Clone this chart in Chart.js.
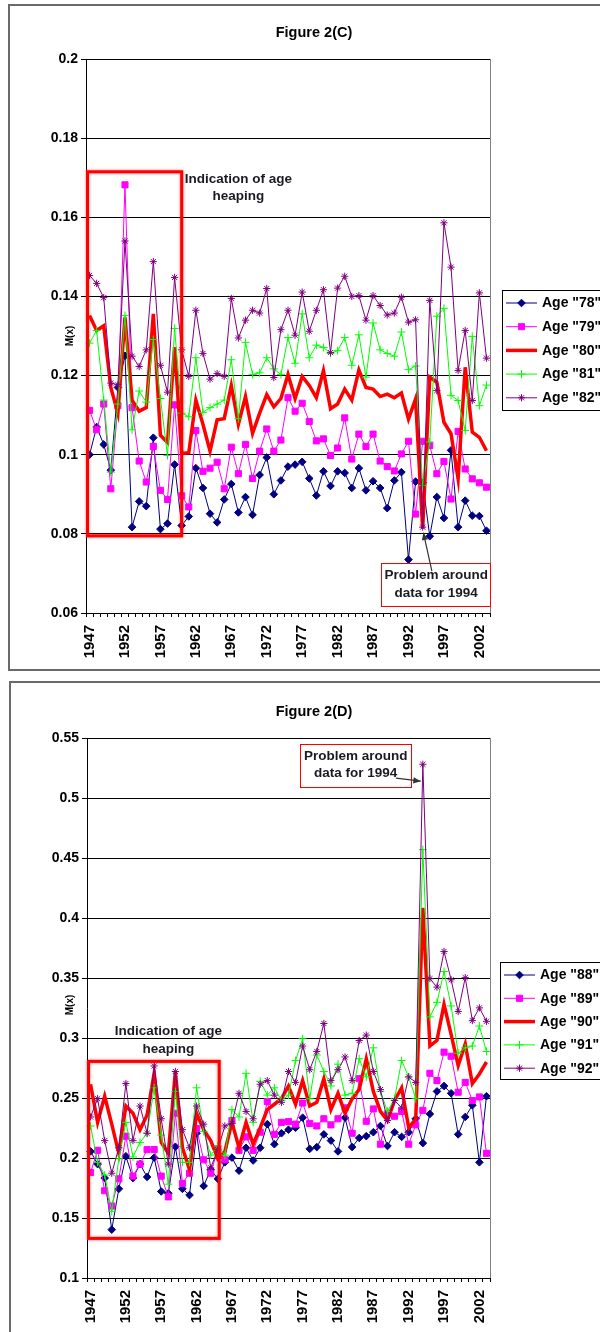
<!DOCTYPE html>
<html>
<head>
<meta charset="utf-8">
<title>Figure 2(C) / 2(D)</title>
<script src="https://cdn.jsdelivr.net/npm/chart.js@4.4.0/dist/chart.umd.min.js"></script>
<style>
  html, body { margin: 0; padding: 0; background: #fff; overflow: hidden; }
  .wrap { position: absolute; left: 0; width: 600px; }
  #wrapC { top: 0; height: 676px; }
  #wrapD { top: 676px; height: 656px; }
  canvas { display: block; }
</style>
</head>
<body>
<div class="wrap" id="wrapC"><canvas id="chartC" width="600" height="676"></canvas></div>
<div class="wrap" id="wrapD"><canvas id="chartD" width="600" height="656"></canvas></div>
<script>
// ---- data ----
const years = ['1947','1948','1949','1950','1951','1952','1953','1954','1955','1956',
  '1957','1958','1959','1960','1961','1962','1963','1964','1965','1966',
  '1967','1968','1969','1970','1971','1972','1973','1974','1975','1976',
  '1977','1978','1979','1980','1981','1982','1983','1984','1985','1986',
  '1987','1988','1989','1990','1991','1992','1993','1994','1995','1996',
  '1997','1998','1999','2000','2001','2002','2003'];
const yearTicks = ['1947','1952','1957','1962','1967','1972','1977','1982','1987','1992','1997','2002'];

// Figure 2(C)
const namesC = ['Age "78"', 'Age "79"', 'Age "80"', 'Age "81"', 'Age "82"'];
const age78 = [0.100,0.107,0.1026,0.0961,0.117,0.125,0.0817,0.0882,0.087,0.1043,
  0.0812,0.0826,0.0975,0.0821,0.0844,0.0966,0.0916,0.0851,0.0829,0.0887,
  0.0926,0.0854,0.0893,0.0848,0.0949,0.0993,0.090,0.0935,0.097,0.0975,
  0.0982,0.094,0.0897,0.0958,0.0921,0.0958,0.0954,0.0916,0.0966,0.091,
  0.0933,0.0916,0.0865,0.0935,0.0956,0.0735,0.0932,0.0929,0.0794,0.0893,
  0.084,0.1011,0.0817,0.0884,0.0846,0.0845,0.0808];
const age79 = [0.1112,0.1063,0.1128,0.0914,0.1124,0.1682,0.1119,0.0984,0.0931,0.1021,
  0.091,0.0887,0.1126,0.0896,0.0868,0.1061,0.0958,0.0966,0.0981,0.0914,
  0.1019,0.0952,0.1026,0.094,0.1009,0.1065,0.1009,0.1037,0.1144,0.111,
  0.113,0.1084,0.1035,0.104,0.0998,0.1017,0.1093,0.0989,0.1052,0.1021,
  0.1052,0.0984,0.097,0.0959,0.1002,0.1034,0.085,0.1034,0.1023,0.0952,
  0.0983,0.0888,0.1059,0.0964,0.0939,0.0929,0.0918];
const age80 = [0.1352,0.1314,0.1326,0.117,0.1105,0.1347,0.1138,0.111,0.1119,0.1356,
  0.1049,0.1031,0.1272,0.1003,0.1005,0.1138,0.1077,0.1009,0.1088,0.1091,
  0.1175,0.1077,0.1147,0.1054,0.1105,0.1152,0.1121,0.1142,0.1203,0.1142,
  0.1198,0.1175,0.1144,0.1212,0.1116,0.1128,0.1166,0.1138,0.1214,0.117,
  0.1166,0.1147,0.1153,0.1144,0.1156,0.109,0.1141,0.0813,0.1196,0.1183,
  0.1082,0.1053,0.0939,0.1221,0.1057,0.1044,0.101];
const age81 = [0.1282,0.1314,0.1138,0.0956,0.1128,0.1352,0.1063,0.1161,0.1133,0.1291,
  0.1142,0.0998,0.1319,0.1105,0.1096,0.1245,0.1107,0.1119,0.1128,0.1138,
  0.124,0.1091,0.1284,0.1203,0.1207,0.1245,0.1217,0.1203,0.1296,0.1231,
  0.1356,0.1245,0.1277,0.1271,0.1256,0.1263,0.1296,0.1226,0.1303,0.1196,
  0.1333,0.1265,0.1256,0.1249,0.131,0.1215,0.1224,0.0922,0.1032,0.135,
  0.137,0.115,0.1137,0.1061,0.1299,0.1124,0.1176];
const age82 = [0.1453,0.1433,0.1397,0.1181,0.1177,0.154,0.1249,0.1223,0.1265,0.1488,
  0.1226,0.1158,0.1448,0.1265,0.1198,0.1365,0.1256,0.1191,0.1205,0.1198,
  0.1395,0.1295,0.134,0.1365,0.1358,0.142,0.1195,0.1316,0.1365,0.1302,
  0.1411,0.1312,0.1365,0.1417,0.1258,0.1421,0.1451,0.14,0.1402,0.134,
  0.1402,0.1377,0.1353,0.1358,0.1398,0.1335,0.1341,0.0817,0.139,0.1162,
  0.1586,0.1474,0.1213,0.1314,0.1137,0.1409,0.1244];
const yTicksC = [0.06, 0.08, 0.1, 0.12, 0.14, 0.16, 0.18, 0.2];

// Figure 2(D)
const namesD = ['Age "88"', 'Age "89"', 'Age "90"', 'Age "91"', 'Age "92"'];
const age88 = [0.2055,0.1949,0.1833,0.1403,0.1743,0.2015,0.1833,0.1949,0.1842,0.2003,
  0.1721,0.1706,0.2094,0.1743,0.1691,0.2206,0.1767,0.1903,0.1827,0.1964,
  0.2003,0.1894,0.2085,0.1979,0.2085,0.2282,0.2115,0.2206,0.2236,0.2252,
  0.2336,0.2076,0.2091,0.2197,0.2145,0.2055,0.2336,0.2091,0.2167,0.2182,
  0.2215,0.2267,0.21,0.2215,0.2176,0.2215,0.2327,0.2124,0.2367,0.2555,
  0.26,0.2539,0.2197,0.2342,0.2439,0.1964,0.2515];
const age89 = [0.1879,0.2064,0.1727,0.16,0.1827,0.2182,0.1849,0.1949,0.207,0.207,
  0.1849,0.1676,0.2373,0.1788,0.1873,0.2245,0.1985,0.1873,0.2076,0.1985,
  0.2312,0.2064,0.2176,0.2064,0.2215,0.247,0.2197,0.2297,0.2303,0.2282,
  0.2458,0.2288,0.2267,0.2327,0.2276,0.2327,0.2418,0.2206,0.2661,0.2306,
  0.2409,0.2115,0.2367,0.2348,0.2388,0.2115,0.2276,0.2397,0.2706,0.2645,
  0.2882,0.2848,0.2548,0.263,0.2479,0.2509,0.2039];
const age90 = [0.2615,0.2297,0.2515,0.2282,0.2039,0.2433,0.2373,0.2236,0.2358,0.2706,
  0.213,0.2039,0.2721,0.2085,0.1903,0.2373,0.2236,0.2145,0.1994,0.2055,
  0.2297,0.2085,0.2297,0.2115,0.2252,0.2403,0.2448,0.2494,0.26,0.2448,
  0.2645,0.2433,0.2464,0.2661,0.2403,0.2539,0.2373,0.2494,0.257,0.2827,
  0.2555,0.2388,0.2312,0.2479,0.2585,0.2252,0.2327,0.4085,0.2933,0.298,
  0.328,0.303,0.277,0.295,0.262,0.27,0.28];
const age91 = [0.2267,0.1964,0.1858,0.1555,0.1994,0.2297,0.2009,0.213,0.2206,0.2585,
  0.2191,0.1782,0.2555,0.1964,0.1964,0.2585,0.2221,0.2024,0.21,0.2024,
  0.2403,0.2342,0.2706,0.2297,0.2639,0.2524,0.2585,0.2479,0.2524,0.2812,
  0.2994,0.2494,0.2858,0.2721,0.26,0.2782,0.2524,0.2539,0.2827,0.2676,
  0.2918,0.2555,0.2388,0.2494,0.2812,0.2676,0.2494,0.457,0.3176,0.3297,
  0.3554,0.3267,0.2873,0.2918,0.2933,0.31,0.2888];
const age92 = [0.2342,0.2494,0.2145,0.1873,0.2085,0.2621,0.2145,0.2433,0.2206,0.2767,
  0.2327,0.1949,0.2721,0.2236,0.2085,0.2433,0.2282,0.1918,0.207,0.2267,
  0.2288,0.2539,0.2388,0.2327,0.2615,0.2645,0.2524,0.2464,0.2721,0.263,
  0.2933,0.2736,0.2888,0.3121,0.2645,0.2736,0.2842,0.2645,0.2979,0.3024,
  0.2721,0.257,0.2312,0.2479,0.2418,0.2676,0.263,0.5281,0.3494,0.3424,
  0.3721,0.3485,0.3221,0.3503,0.3145,0.3251,0.3139];
const yTicksD = [0.1, 0.15, 0.2, 0.25, 0.3, 0.35, 0.4, 0.45, 0.5, 0.55];

// ---- styling (Excel 2003 look) ----
const FONT = "'Liberation Sans', Arial, sans-serif";
const seriesStyle = [
  { color: '#000080', width: 1,   point: 'rectRot', radius: 3.8 },
  { color: '#FF00FF', width: 1,   point: 'rect',    radius: 4.3 },
  { color: '#FF0000', width: 3.5, point: false,     radius: 0 },
  { color: '#00FF00', width: 1,   point: 'cross',   radius: 4 },
  { color: '#800080', width: 1,   point: 'star',    radius: 3.6 }
];

function buildDatasets(names, series) {
  return series.map((values, i) => {
    const st = seriesStyle[i];
    return {
      label: names[i],
      data: values,
      borderColor: st.color,
      backgroundColor: st.color,
      borderWidth: st.width,
      pointStyle: st.point,
      pointRadius: st.radius,
      pointBackgroundColor: st.color,
      pointBorderColor: st.color,
      pointBorderWidth: 1,
      tension: 0,
      fill: false,
      order: series.length - i   // later series on top, like Excel
    };
  });
}

// frame, title, annotations and legend drawn on the chart canvas
function decorPlugin(cfg) {
  const px = (chart, xv, yv) => [chart.scales.x.getPixelForValue(xv), chart.scales.y.getPixelForValue(yv)];
  return {
    id: 'decor',
    beforeDraw(chart) {
      const ctx = chart.ctx;
      ctx.save();
      ctx.fillStyle = '#fff';
      ctx.fillRect(0, 0, chart.width, chart.height);
      ctx.strokeStyle = '#6a6a6a';
      ctx.lineWidth = 2;
      ctx.strokeRect(cfg.frame[0], cfg.frame[1], cfg.frame[2], cfg.frame[3]);
      ctx.fillStyle = '#000';
      ctx.font = 'bold 14.5px ' + FONT;
      ctx.textAlign = 'center';
      ctx.textBaseline = 'middle';
      ctx.fillText(cfg.title, cfg.titlePos[0], cfg.titlePos[1]);
      ctx.restore();
    },
    afterDatasetsDraw(chart) {
      const ctx = chart.ctx;
      const area = chart.chartArea;
      ctx.save();
      // plot area right border
      ctx.strokeStyle = '#808080';
      ctx.lineWidth = 1;
      ctx.beginPath();
      ctx.moveTo(Math.round(area.right) + 0.5, area.top);
      ctx.lineTo(Math.round(area.right) + 0.5, area.bottom);
      ctx.stroke();

      // age heaping box
      const hb = cfg.heapBox;
      const [hx0, hy1] = px(chart, hb.x0, hb.y1);
      const [hx1, hy0] = px(chart, hb.x1, hb.y0);
      ctx.strokeStyle = '#FF0000';
      ctx.lineWidth = 3;
      ctx.shadowColor = 'rgba(255,0,0,0.55)';
      ctx.shadowBlur = 3;
      ctx.strokeRect(hx0 + 1.5, hy1, hx1 - hx0 - 1.5, hy0 - hy1);
      ctx.shadowBlur = 0;
      ctx.shadowColor = 'transparent';

      ctx.fillStyle = '#1a1a24';
      ctx.font = 'bold 13.5px ' + FONT;
      ctx.textAlign = 'center';
      ctx.textBaseline = 'middle';
      cfg.heapText.lines.forEach((t, k) => {
        const [tx, ty] = px(chart, cfg.heapText.x, cfg.heapText.y[k]);
        ctx.fillText(t, tx, ty);
      });

      // 1994 problem call-out
      const pb = cfg.probBox;
      const [px0, py1] = px(chart, pb.x0, pb.y1);
      const [px1, py0] = px(chart, pb.x1, pb.y0);
      ctx.fillStyle = '#fff';
      ctx.fillRect(px0, py1, px1 - px0, py0 - py1);
      ctx.strokeStyle = '#FF0000';
      ctx.lineWidth = 1;
      ctx.strokeRect(Math.round(px0) + 0.5, Math.round(py1) + 0.5, Math.round(px1 - px0), Math.round(py0 - py1));
      ctx.fillStyle = '#1a1a24';
      cfg.probText.lines.forEach((t, k) => {
        const [tx, ty] = px(chart, cfg.probText.x, cfg.probText.y[k]);
        ctx.fillText(t, tx, ty);
      });

      // arrow
      const [ax0, ay0] = px(chart, cfg.arrow.from[0], cfg.arrow.from[1]);
      const [ax1, ay1] = px(chart, cfg.arrow.to[0], cfg.arrow.to[1]);
      ctx.strokeStyle = '#333';
      ctx.fillStyle = '#333';
      ctx.lineWidth = 1.2;
      ctx.beginPath();
      ctx.moveTo(ax0, ay0);
      ctx.lineTo(ax1, ay1);
      ctx.stroke();
      const ang = Math.atan2(ay1 - ay0, ax1 - ax0);
      ctx.beginPath();
      ctx.moveTo(ax1, ay1);
      ctx.lineTo(ax1 - 8 * Math.cos(ang - 0.4), ay1 - 8 * Math.sin(ang - 0.4));
      ctx.lineTo(ax1 - 8 * Math.cos(ang + 0.4), ay1 - 8 * Math.sin(ang + 0.4));
      ctx.closePath();
      ctx.fill();
      ctx.restore();
    },
    afterDraw(chart) {
      const ctx = chart.ctx;
      ctx.save();
      // y axis title, sitting between the tick labels like the original
      ctx.translate(cfg.yTitlePos[0], cfg.yTitlePos[1]);
      ctx.rotate(-Math.PI / 2);
      ctx.fillStyle = '#000';
      ctx.font = 'bold 10px ' + FONT;
      ctx.textAlign = 'center';
      ctx.textBaseline = 'middle';
      ctx.fillText('M(x)', 0, 0);
      ctx.restore();

      // legend
      const lg = cfg.legend;
      ctx.save();
      ctx.fillStyle = '#fff';
      ctx.fillRect(lg.x, lg.y, lg.w, lg.h);
      ctx.strokeStyle = '#000';
      ctx.lineWidth = 1;
      ctx.strokeRect(lg.x + 0.5, lg.y + 0.5, lg.w, lg.h);
      ctx.font = 'bold 14px ' + FONT;
      ctx.textAlign = 'left';
      ctx.textBaseline = 'middle';
      chart.data.datasets.forEach((ds, k) => {
        const y = lg.y + lg.first + k * lg.step;
        const x0 = lg.x + 4, x1 = lg.x + 35;
        ctx.strokeStyle = ds.borderColor;
        ctx.lineWidth = ds.borderWidth;
        ctx.beginPath();
        ctx.moveTo(x0, y);
        ctx.lineTo(x1, y);
        ctx.stroke();
        if (ds.pointStyle && Chart.helpers && Chart.helpers.drawPoint) {
          ctx.fillStyle = ds.pointBackgroundColor;
          ctx.strokeStyle = ds.pointBorderColor;
          ctx.lineWidth = 1;
          Chart.helpers.drawPoint(ctx, { pointStyle: ds.pointStyle, radius: ds.pointRadius, borderWidth: 1, rotation: 0 }, (x0 + x1) / 2, y);
        }
        ctx.fillStyle = '#000';
        ctx.fillText(ds.label, lg.x + 40, y + 0.5);
      });
      ctx.restore();
    }
  };
}

function makeChart(id, names, series, yTicks, pad, xHeight, cfg) {
  const ctx = document.getElementById(id).getContext('2d');
  return new Chart(ctx, {
    type: 'line',
    data: { labels: years, datasets: buildDatasets(names, series) },
    plugins: [decorPlugin(cfg)],
    options: {
      responsive: false,
      animation: false,
      events: [],
      layout: { padding: pad },
      plugins: {
        legend: { display: false },
        title: { display: false },
        tooltip: { enabled: false }
      },
      scales: {
        x: {
          type: 'category',
          offset: true,
          grid: { offset: true, drawOnChartArea: false, drawTicks: true, tickLength: 4, color: '#000' },
          border: { color: '#000', width: 1 },
          ticks: {
            autoSkip: false,
            minRotation: 90,
            maxRotation: 90,
            padding: 8,
            color: '#000',
            font: { family: FONT, size: 15, weight: 'bold' },
            callback: function (value) {
              const lab = this.getLabelForValue(value);
              return yearTicks.includes(lab) ? lab : '';
            }
          },
          afterFit: (scale) => { scale.height = xHeight; }
        },
        y: {
          min: yTicks[0],
          max: yTicks[yTicks.length - 1],
          afterBuildTicks: (scale) => { scale.ticks = yTicks.map(v => ({ value: v })); },
          grid: { color: '#000', lineWidth: 1, tickLength: 5, tickColor: '#000' },
          border: { color: '#000', width: 1 },
          ticks: {
            padding: 3,
            color: '#000',
            font: { family: FONT, size: 14, weight: 'bold' },
            callback: (v) => String(Number(v.toFixed(2)))
          },
          afterFit: (scale) => { scale.width = 40; }
        }
      }
    }
  });
}

// Figure 2(C)
makeChart('chartC', namesC, [age78, age79, age80, age81, age82], yTicksC,
  { left: 46, right: 110, top: 59, bottom: 8 }, 55, {
    title: 'Figure 2(C)',
    titlePos: [314, 33],
    frame: [9, 5, 700, 665],
    yTitlePos: [70, 336],
    heapBox: { x0: -0.5, x1: 13, y0: 0.0795, y1: 0.1715 },
    heapText: { x: 21, y: [0.1695, 0.1652], lines: ['Indication of age', 'heaping'] },
    probBox: { x0: 41.1, x1: 56.5, y0: 0.0617, y1: 0.0726 },
    probText: { x: 48.9, y: [0.0696, 0.0651], lines: ['Problem around', 'data for 1994'] },
    arrow: { from: [48.3, 0.0706], to: [47.1, 0.0803] },
    legend: { x: 502, y: 290, w: 130, h: 120, first: 13, step: 23.7 }
  });

// Figure 2(D)
makeChart('chartD', namesD, [age88, age89, age90, age91, age92], yTicksD,
  { left: 47, right: 110, top: 62, bottom: 4 }, 50, {
    title: 'Figure 2(D)',
    titlePos: [314, 36],
    frame: [10, 6, 700, 700],
    yTitlePos: [70, 329],
    heapBox: { x0: -0.5, x1: 18.2, y0: 0.133, y1: 0.2805 },
    heapText: { x: 11, y: [0.3055, 0.291], lines: ['Indication of age', 'heaping'] },
    probBox: { x0: 29.6, x1: 45.3, y0: 0.509, y1: 0.545 },
    probText: { x: 37.5, y: [0.5344, 0.5204], lines: ['Problem around', 'data for 1994'] },
    arrow: { from: [43.2, 0.5165], to: [46.7, 0.514] },
    legend: { x: 500, y: 286, w: 130, h: 117, first: 13, step: 23.3 }
  });
</script>
</body>
</html>
